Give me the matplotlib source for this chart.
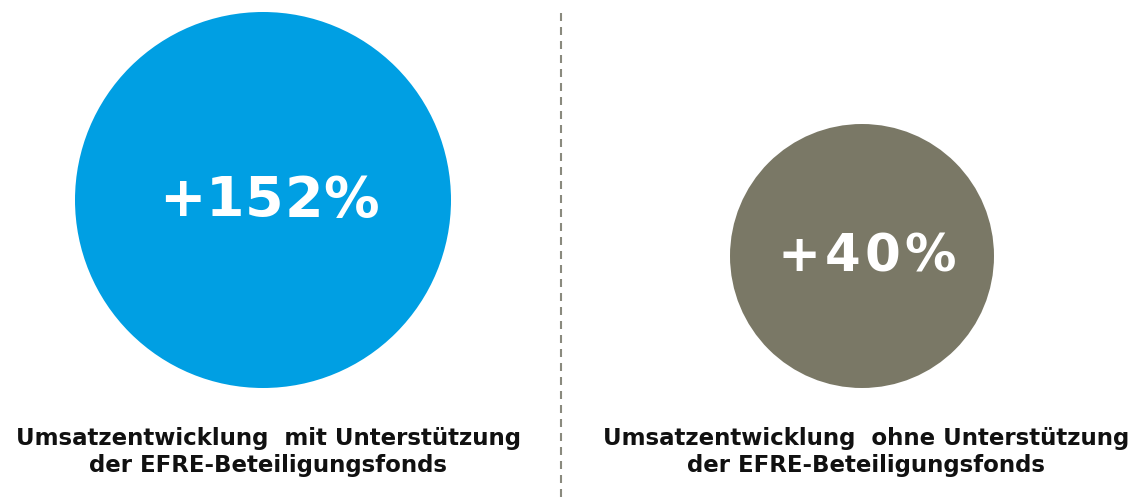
import matplotlib
matplotlib.use("Agg")
import matplotlib.pyplot as plt
from matplotlib.patches import Circle

# Data
values = [152, 40]
value_labels = ["+152%", "+40%"]
captions = ["Umsatzentwicklung  mit Unterstützung\nder EFRE-Beteiligungsfonds",
            "Umsatzentwicklung  ohne Unterstützung\nder EFRE-Beteiligungsfonds"]
colors = ["#009FE3", "#7A7866"]

# Layout (pixel coordinates)
W, H = 1140, 498
centers = [(263, 200), (862, 256)]
radii = [188, 132]
text_x = [269, 867]
caption_x = [268, 866]
font_sizes = [40, 37]
letter_gap = [0.5, 4]  # extra pixels between glyphs

fig = plt.figure(figsize=(W / 100, H / 100), dpi=100)
ax = fig.add_axes([0, 0, 1, 1])
ax.set_xlim(0, W)
ax.set_ylim(H, 0)
ax.set_aspect("equal")
ax.axis("off")
renderer = fig.canvas.get_renderer()

for i, v in enumerate(values):
    cx, cy = centers[i]
    ax.add_patch(Circle((cx, cy), radii[i], facecolor=colors[i], edgecolor="none"))
    # letter-spaced label: measure each glyph, then place
    label = value_labels[i]
    widths = []
    for ch in label:
        t = ax.text(0, 0, ch, fontsize=font_sizes[i], fontweight="bold",
                    family="DejaVu Sans")
        widths.append(t.get_window_extent(renderer).width)
        t.remove()
    total = sum(widths) + letter_gap[i] * (len(label) - 1)
    x = text_x[i] - total / 2
    for ch, w in zip(label, widths):
        ax.text(x, cy + 1, ch, color="white", fontsize=font_sizes[i],
                fontweight="bold", family="DejaVu Sans", ha="left", va="center")
        x += w + letter_gap[i]
    ax.text(caption_x[i], 452, captions[i], color="#111111", fontsize=16.5,
            fontweight="bold", family="DejaVu Sans", ha="center", va="center",
            linespacing=1.25)

ax.plot([561, 561], [13, H], color="#8A8A7E", linewidth=1.5,
        linestyle=(0, (3.84, 2.88)))

fig.savefig("out.png", dpi=100)
